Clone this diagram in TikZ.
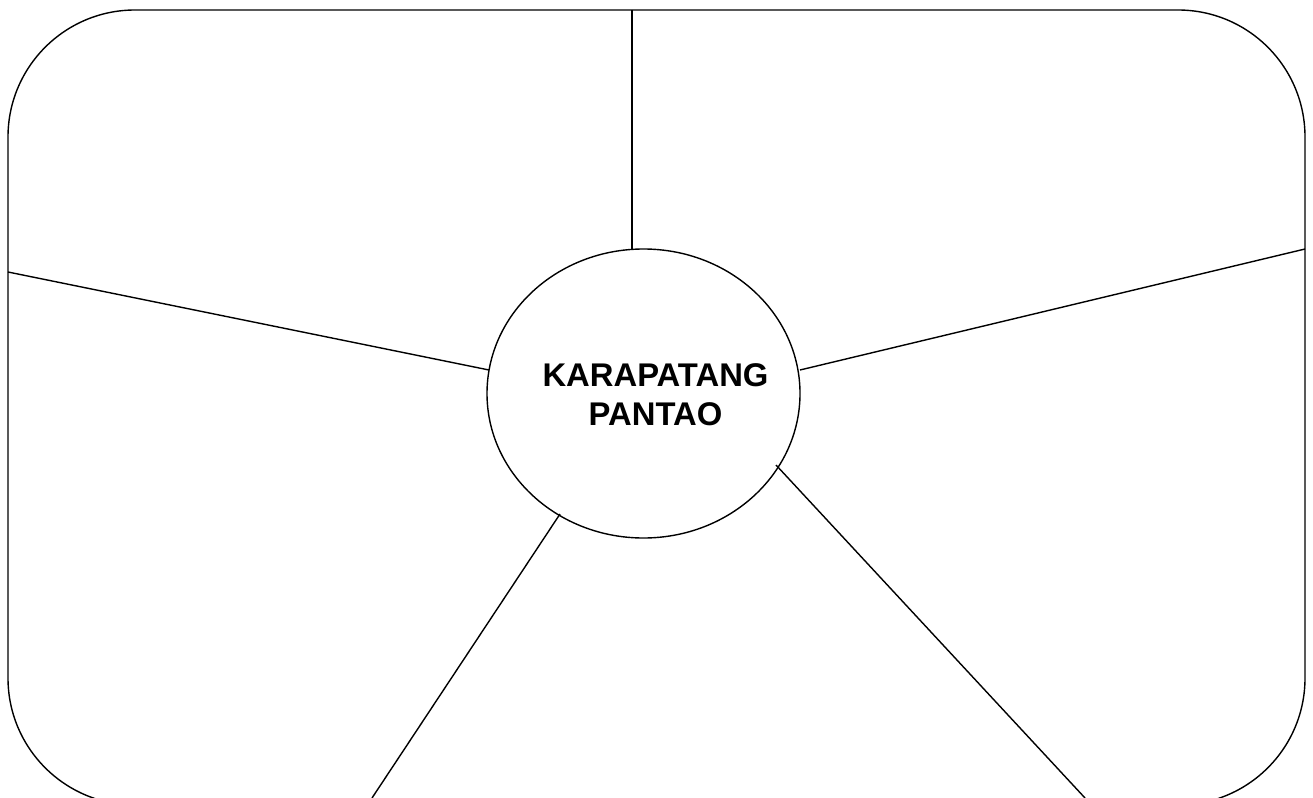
\documentclass[tikz,border=0pt]{standalone}
\usepackage{fontspec}
\setmainfont{Liberation Sans}
\usetikzlibrary{shapes.geometric}
\begin{document}
\begin{tikzpicture}[x=1pt,y=-1pt,
  ln/.style={line width=1.4pt, black},
  hub/.style={draw, line width=1.4pt, ellipse, minimum width=313pt, minimum height=289pt, inner sep=0pt},
  lbl/.style={font=\bfseries\fontsize{32.8}{39}\selectfont, align=center, inner sep=0pt}]
\path[use as bounding box, clip] (0,0) rectangle (1313,797);
\fill[white] (0,0) rectangle (1313,797);
\draw[ln, rounded corners=127pt] (8,10) rectangle (1305,805);
\node[hub] (c) at (643.5,393.5) {};
\node[lbl] (t) at (655.5,394.5) {KARAPATANG\\PANTAO};
\coordinate (o1) at (632,10);
\coordinate (i1) at (632,249);
\coordinate (o2) at (8,272);
\coordinate (i2) at (489,370);
\coordinate (o3) at (1305,249);
\coordinate (i3) at (800,370);
\coordinate (o4) at (372,798);
\coordinate (i4) at (560,514);
\coordinate (o5) at (1085,798);
\coordinate (i5) at (776,465);
\draw[ln] (o1) -- (i1);
\draw[ln] (o2) -- (i2);
\draw[ln] (o3) -- (i3);
\draw[ln] (o4) -- (i4);
\draw[ln] (o5) -- (i5);
\end{tikzpicture}
\end{document}
